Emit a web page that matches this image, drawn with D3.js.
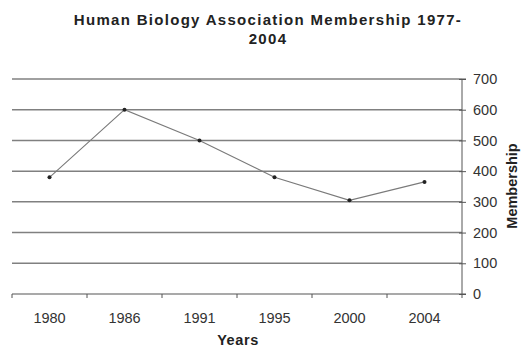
<!DOCTYPE html>
<html>
<head>
<meta charset="utf-8">
<script src="https://cdn.jsdelivr.net/npm/d3@7"></script>
<style>
  html, body { margin: 0; padding: 0; background: #fff; }
  svg { display: block; font-family: "Liberation Sans", Arial, sans-serif; }
</style>
</head>
<body>
<svg id="chart" width="526" height="350"></svg>
<script>
// Membership of the association by year
const years = ["1980", "1986", "1991", "1995", "2000", "2004"];
const membership = [380, 600, 500, 380, 305, 365];
const yTicks = [0, 100, 200, 300, 400, 500, 600, 700];
const titleLines = ["Human Biology Association Membership 1977-", "2004"];

const svg = d3.select("#chart");
const margin = { left: 12, right: 64, top: 79, bottom: 56 };
const W = 526, H = 350;
const x0 = margin.left, x1 = W - margin.right;
const y0 = H - margin.bottom, y1 = margin.top;

const x = d3.scaleBand().domain(years).range([x0, x1]);
const y = d3.scaleLinear().domain([0, 700]).range([y0, y1]);

// Horizontal gridlines
svg.append("g")
  .selectAll("line")
  .data(yTicks.filter(d => d > 0))
  .join("line")
  .attr("x1", x0).attr("x2", x1)
  .attr("y1", d => y(d)).attr("y2", d => y(d))
  .attr("stroke", "#808080")
  .attr("stroke-width", 1.5);

// Right value axis
const yAxis = svg.append("g")
  .attr("transform", `translate(${x1},0)`)
  .call(d3.axisRight(y).tickValues(yTicks).tickSize(4).tickPadding(7).tickFormat(d3.format("d")));
yAxis.select(".domain").attr("stroke", "#555").attr("d", `M4,${y1}H0V${y0}H4`);
yAxis.selectAll(".tick line").attr("stroke", "#555").attr("x1", -3).attr("x2", 4);
yAxis.selectAll("text").attr("fill", "#333").style("font-size", "14.5px");

// Bottom category axis with ticks between categories
const xAxis = svg.append("g")
  .attr("transform", `translate(0,${y0})`)
  .call(d3.axisBottom(x).tickSize(0).tickPadding(19));
xAxis.select(".domain").attr("stroke", "#555").attr("stroke-width", 1.2).attr("d", `M${x0},0H${x1}`);
xAxis.selectAll("text").attr("fill", "#333").style("font-size", "14.5px");
svg.append("g")
  .selectAll("line")
  .data(d3.range(years.length + 1))
  .join("line")
  .attr("x1", i => x0 + i * x.step()).attr("x2", i => x0 + i * x.step())
  .attr("y1", y0).attr("y2", y0 + 4)
  .attr("stroke", "#555");

// Series line and markers
const line = d3.line()
  .x((d, i) => x(years[i]) + x.bandwidth() / 2)
  .y(d => y(d));
svg.append("path")
  .datum(membership)
  .attr("d", line)
  .attr("fill", "none")
  .attr("stroke", "#7a7a7a")
  .attr("stroke-width", 1.1);
svg.append("g")
  .selectAll("circle")
  .data(membership)
  .join("circle")
  .attr("cx", (d, i) => x(years[i]) + x.bandwidth() / 2)
  .attr("cy", d => y(d))
  .attr("r", 2)
  .attr("fill", "#222");

// Title
svg.append("text")
  .attr("x", 268).attr("text-anchor", "middle")
  .attr("fill", "#222")
  .style("font-size", "15px").style("font-weight", "bold").style("letter-spacing", "1.3px")
  .selectAll("tspan")
  .data(titleLines)
  .join("tspan")
  .attr("x", 268)
  .attr("y", (d, i) => 25 + i * 19)
  .text(d => d);

// Axis titles
svg.append("text")
  .attr("x", 238).attr("y", 345)
  .attr("text-anchor", "middle")
  .attr("fill", "#222")
  .style("font-size", "14.5px").style("font-weight", "bold").style("letter-spacing", "0.6px")
  .text("Years");

svg.append("text")
  .attr("transform", "translate(517,186) rotate(-90)")
  .attr("text-anchor", "middle")
  .attr("fill", "#222")
  .style("font-size", "14.5px").style("font-weight", "bold")
  .text("Membership");
</script>
</body>
</html>
